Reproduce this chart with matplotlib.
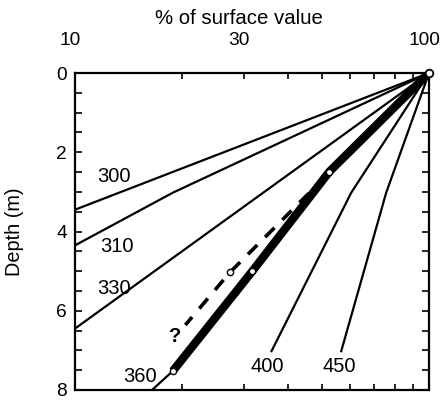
import numpy as np
import matplotlib
matplotlib.use("Agg")
import matplotlib.pyplot as plt
import matplotlib.transforms as mtransforms
from matplotlib.ticker import FixedLocator, NullFormatter, FixedFormatter

plt.rcParams['font.family'] = ['Liberation Sans', 'DejaVu Sans']
plt.rcParams['lines.scale_dashes'] = False

# thin profiles: % of surface value vs depth (m)
pct_300 = [100, 10]
dep_300 = [0, 3.45]
pct_310 = [100, 18.9, 10]
dep_310 = [0, 3.02, 4.35]
pct_330 = [100, 10]
dep_330 = [0, 6.45]
pct_400 = [100, 60.3, 35.9]
dep_400 = [0, 3.02, 7.02]
pct_450 = [100, 75.7, 56.5]
dep_450 = [0, 3.02, 7.02]

# thick 360 profile with measured points
pct_360 = [100, 52.3, 31.7, 18.9]
dep_360 = [0, 2.49, 5.0, 7.52]
pct_360_tail = [18.9, 16.5]
dep_360_tail = [7.52, 8.0]

# dashed (uncertain) profile
pct_dash = [100, 27.4, 20.5]
dep_dash = [0, 5.03, 6.36]
pct_dash_pt = [27.4]
dep_dash_pt = [5.03]

# surface point
pct_surf = [100]
dep_surf = [0]

# line labels: text, x (%), depth
lab_text = ['300', '310', '330', '360', '400', '450']
lab_x = [12.9, 13.1, 12.9, 15.3, 35.0, 55.7]
lab_y = [2.62, 4.38, 5.43, 7.65, 7.40, 7.40]

fig = plt.figure(figsize=(4.42, 4.0), dpi=100)
ax = fig.add_axes([75 / 442, 1 - 390 / 400, 354 / 442, 317 / 400])

lw = 1.6
ax.plot(pct_300, dep_300, color='black', lw=lw)
ax.plot(pct_310, dep_310, color='black', lw=lw)
ax.plot(pct_330, dep_330, color='black', lw=lw)
ax.plot(pct_400, dep_400, color='black', lw=lw)
ax.plot(pct_450, dep_450, color='black', lw=lw)
ax.plot(pct_360_tail, dep_360_tail, color='black', lw=lw)
ax.plot(pct_360, dep_360, color='black', lw=6.0, solid_capstyle='butt', solid_joinstyle='miter')
ax.plot(pct_dash, dep_dash, color='black', lw=2.6, dashes=(9.5, 8))
ax.plot(pct_360[1:], dep_360[1:], 'o', ms=4.5, mfc='white', mec='black', mew=1.0)
ax.plot(pct_dash_pt, dep_dash_pt, 'o', ms=4.5, mfc='white', mec='black', mew=1.0)
ax.plot(pct_surf, dep_surf, 'o', ms=5.5, mfc='white', mec='black', mew=1.3, clip_on=False, zorder=5)

for t, x, y in zip(lab_text, lab_x, lab_y):
    ax.text(x, y, t, fontsize=14.5, ha='center', va='center')
ax.text(19.1, 6.64, '?', fontsize=14.5, fontweight='bold', ha='center', va='center')

ax.set_xscale('log')
ax.set_xlim(10, 100)
ax.set_ylim(8, 0)

ax.xaxis.set_major_locator(FixedLocator([10, 30, 100]))
ax.xaxis.set_major_formatter(FixedFormatter(['10', '30', '100']))
ax.xaxis.set_minor_locator(FixedLocator([20, 40, 50, 60, 70, 80, 90]))
ax.xaxis.set_minor_formatter(NullFormatter())
ax.yaxis.set_major_locator(FixedLocator([0, 2, 4, 6, 8]))
ax.yaxis.set_minor_locator(FixedLocator(np.arange(0.5, 8, 0.5)))

ax.tick_params(axis='x', which='both', direction='in', top=True, bottom=True,
               labeltop=True, labelbottom=False, length=4, width=1.2, labelsize=13.8, pad=17)
ax.tick_params(axis='y', which='both', direction='in', left=True, right=True,
               length=5, width=1.2, labelsize=13.8, pad=6)

# top labels sit a little left of their ticks
shift = mtransforms.ScaledTranslation(-5 / 100, 0, fig.dpi_scale_trans)
for tk in ax.xaxis.get_major_ticks():
    tk.label2.set_transform(tk.label2.get_transform() + shift)

for s in ax.spines.values():
    s.set_linewidth(1.6)

ax.set_ylabel('Depth (m)', fontsize=14.3)
ax.yaxis.set_label_coords(-0.144, 0.50)
fig.text(239 / 442, 1 - 18 / 400, '% of surface value', fontsize=14.7, ha='center', va='center')

fig.savefig('out.png', dpi=100)
